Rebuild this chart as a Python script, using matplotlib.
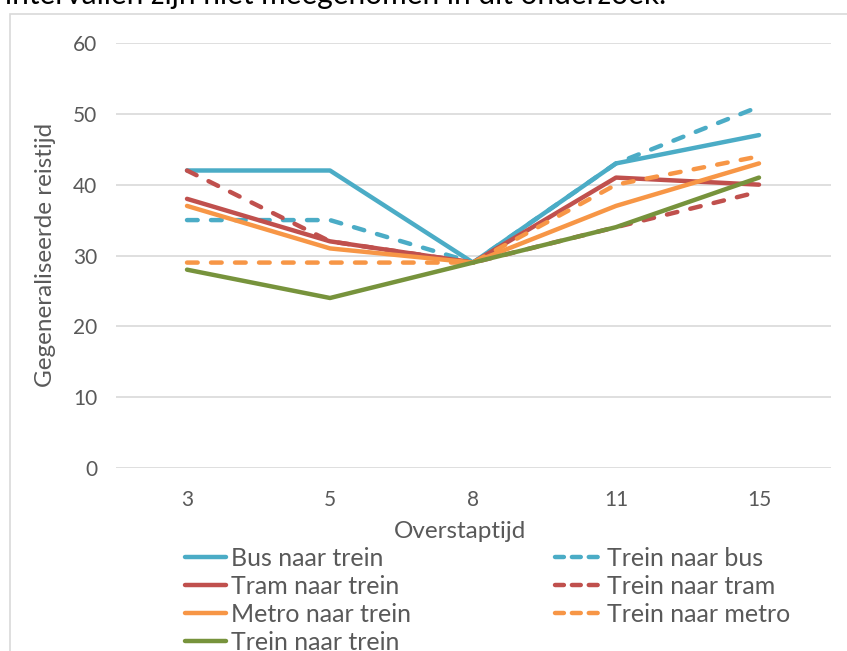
import matplotlib
matplotlib.use("Agg")
import matplotlib.pyplot as plt
from matplotlib.lines import Line2D
from matplotlib.patches import Rectangle

plt.rcParams['font.family'] = ['Lato', 'DejaVu Sans']

# overstaptijd (minuten) en gegeneraliseerde reistijd per combinatie
overstaptijd = ['3', '5', '8', '11', '15']
bus_trein = [42, 42, 29, 43, 47]
trein_bus = [35, 35, 29, 43, 51]
tram_trein = [38, 32, 29, 41, 40]
trein_tram = [42, 32, 29, 34, 39]
metro_trein = [37, 31, 29, 37, 43]
trein_metro = [29, 29, 29, 40, 44]
trein_trein = [28, 24, 29, 34, 41]

blauw = '#4BACC6'
rood = '#C0504D'
oranje = '#F79646'
groen = '#77933C'
grijs = '#595959'

fig = plt.figure(figsize=(8.47, 6.51), dpi=100)
ax = fig.add_axes([115.5 / 847, 1 - 468 / 651, 715 / 847, 425 / 651])

lw = 3.2
streep = (0, (2.4, 3.0))

reeksen = [
    ('Bus naar trein', bus_trein, blauw, '-'),
    ('Tram naar trein', tram_trein, rood, '-'),
    ('Metro naar trein', metro_trein, oranje, '-'),
    ('Trein naar trein', trein_trein, groen, '-'),
    ('Trein naar bus', trein_bus, blauw, streep),
    ('Trein naar tram', trein_tram, rood, streep),
    ('Trein naar metro', trein_metro, oranje, streep),
]

# volgorde van tekenen zoals in Excel
volgorde = ['Bus naar trein', 'Trein naar bus', 'Tram naar trein', 'Trein naar tram',
            'Metro naar trein', 'Trein naar metro', 'Trein naar trein']
for naam in volgorde:
    for n, y, c, ls in reeksen:
        if n == naam:
            ax.plot(overstaptijd, y, color=c, lw=lw, linestyle=ls,
                    solid_capstyle='round', dash_capstyle='round',
                    solid_joinstyle='round')

ax.set_xlim(-0.5, 4.5)
ax.set_ylim(0, 60)
ax.set_yticks(range(0, 61, 10))
ax.grid(axis='y', color='#D9D9D9', lw=1.2)
ax.set_axisbelow(True)
for s in ax.spines.values():
    s.set_visible(False)
ax.tick_params(length=0, labelsize=15, colors=grijs)
ax.tick_params(axis='y', pad=13)
ax.tick_params(axis='x', pad=16)

fig.text(460 / 847, 1 - 531 / 651, 'Overstaptijd', ha='center', va='center',
         fontsize=17.5, color=grijs)
fig.text(45 / 847, 1 - 255 / 651, 'Gegeneraliseerde reistijd', rotation=90,
         ha='center', va='center', fontsize=17.5, color=grijs)

# legenda in twee kolommen
def handle(c, ls):
    return Line2D([], [], color=c, lw=lw, linestyle=ls, solid_capstyle='round',
                  dash_capstyle='round')

h1 = [handle(c, ls) for n, y, c, ls in reeksen[:4]]
h2 = [handle(c, (0, (2.0, 1.8))) for n, y, c, ls in reeksen[4:]]
fig.legend(h1, [r[0] for r in reeksen[:4]], loc='upper left',
           bbox_to_anchor=(185 / 847, 1 - 547 / 651), frameon=False,
           fontsize=18, labelcolor=grijs, borderpad=0, borderaxespad=0,
           handlelength=1.62, handletextpad=0.22, labelspacing=0.2)
fig.legend(h2, [r[0] for r in reeksen[4:]], loc='upper left',
           bbox_to_anchor=(555 / 847, 1 - 547 / 651), frameon=False,
           fontsize=18, labelcolor=grijs, borderpad=0, borderaxespad=0,
           handlelength=1.8, handletextpad=0.28, labelspacing=0.2)

# kader rond de grafiek
fig.patches.append(Rectangle((9.5 / 847, -0.05), 1.1, 1 - 14 / 651 + 0.05,
                             transform=fig.transFigure, fill=False,
                             edgecolor='#D9D9D9', lw=1.2))

fig.text(5 / 847, 1 - 4 / 651, 'intervallen zijn niet meegenomen in dit onderzoek.',
         ha='left', va='baseline', fontsize=21.5, color='black')

fig.savefig('out.png', dpi=100)
